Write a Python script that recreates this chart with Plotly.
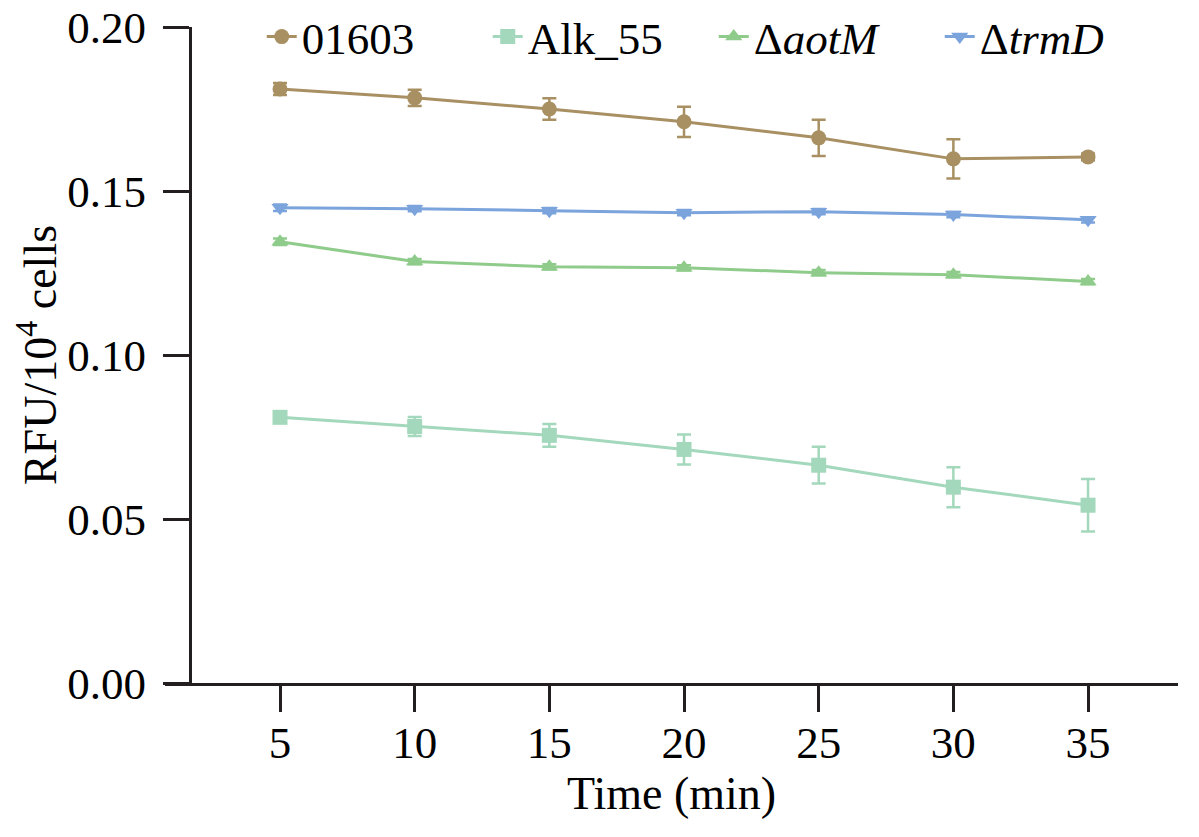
import plotly.graph_objects as go

# time points (min)
time = [5, 10, 15, 20, 25, 30, 35]

# RFU per 10^4 cells
rfu_01603 = [0.1811, 0.1784, 0.1750, 0.1711, 0.1662, 0.1598, 0.1604]
err_01603 = [0.0018, 0.0025, 0.0033, 0.0046, 0.0055, 0.0060, 0.0010]

rfu_alk55 = [0.0810, 0.0782, 0.0755, 0.0712, 0.0664, 0.0597, 0.0542]
err_alk55 = [0.0015, 0.0029, 0.0035, 0.0046, 0.0056, 0.0061, 0.0080]

rfu_aotm = [0.1345, 0.1285, 0.1269, 0.1266, 0.1251, 0.1245, 0.1224]
err_aotm = [0.0010, 0.0008, 0.0008, 0.0008, 0.0008, 0.0008, 0.0008]

rfu_trmd = [0.1449, 0.1446, 0.1440, 0.1434, 0.1437, 0.1428, 0.1412]
err_trmd = [0.0010, 0.0008, 0.0008, 0.0008, 0.0008, 0.0008, 0.0008]

series = [
    ("01603", rfu_01603, err_01603, "#A89063", "circle"),
    ("Alk_55", rfu_alk55, err_alk55, "#A3D8BC", "square"),
    ("\u0394<i>aotM</i>", rfu_aotm, err_aotm, "#8FCB8A", "triangle-up"),
    ("\u0394<i>trmD</i>", rfu_trmd, err_trmd, "#7BA3DC", "triangle-down"),
]

font = "Liberation Serif"

fig = go.Figure()
for name, y, e, color, symbol in series:
    fig.add_trace(go.Scatter(
        x=time, y=y, name=name, mode="lines+markers",
        line=dict(color=color, width=3),
        marker=dict(symbol=symbol, size=15, color=color),
        error_y=dict(type="data", array=e, visible=True,
                     color=color, thickness=2.5, width=7),
    ))

# page body has an 8px margin, so the figure is a bit smaller than the window
fig.update_layout(
    width=1191, height=829,
    margin=dict(l=157, r=21, t=19, b=154, autoexpand=False),
    plot_bgcolor="white", paper_bgcolor="white",
    font=dict(family=font, size=45, color="black"),
    legend=dict(orientation="h", x=0.0955, xanchor="left",
                y=0.985, yanchor="middle",
                font=dict(family=font, size=45),
                bgcolor="rgba(0,0,0,0)", entrywidth=181,
                tracegroupgap=0),
    xaxis=dict(
        range=[0.73, 38.34], tickvals=time,
        title=dict(text="Time (min)", standoff=4, font=dict(size=46)),
        showline=True, linecolor="#231f20", linewidth=3,
        ticks="outside", ticklen=26, tickwidth=2.5, tickcolor="#231f20",
        ticklabelstandoff=-8, ticklabeloverflow="allow",
        showgrid=False, zeroline=False, automargin=False,
    ),
    yaxis=dict(
        range=[0, 0.2], tickvals=[0, 0.05, 0.10, 0.15, 0.20],
        tickformat=".2f",
        title=dict(text="RFU/10<sup>4</sup> cells", standoff=14, font=dict(size=46)),
        anchor="free", position=0.0247,
        showline=True, linecolor="#231f20", linewidth=3,
        ticks="outside", ticklen=26, tickwidth=2.5, tickcolor="#231f20",
        ticklabelstandoff=8, ticklabeloverflow="allow",
        showgrid=False, zeroline=False, automargin=False,
    ),
)

fig.write_html("out.html")
